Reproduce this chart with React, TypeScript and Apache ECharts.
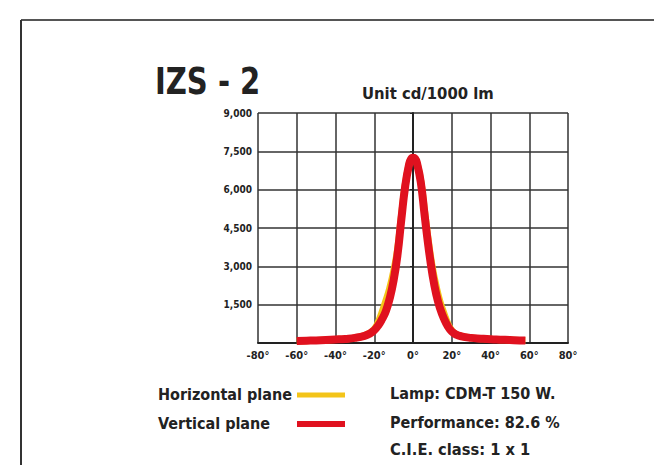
import React, { useEffect, useRef } from "react";
import * as echarts from "echarts";

const angles = [-60, -55, -50, -45, -40, -35, -30, -25, -22, -20, -18, -16, -14, -12, -10, -8, -6, -4, -2, -1, 0, 1, 2, 4, 6, 8, 10, 12, 14, 16, 18, 20, 22, 25, 30, 35, 40, 45, 50, 55, 58];
const verticalPlane = [80, 90, 100, 115, 135, 160, 200, 280, 380, 500, 680, 930, 1250, 1750, 2450, 3450, 4850, 6150, 7000, 7200, 7250, 7220, 7050, 6300, 5000, 3750, 2700, 1900, 1350, 950, 650, 450, 340, 260, 200, 170, 145, 130, 115, 100, 95];
const horizontalPlane = [80, 90, 100, 115, 135, 160, 200, 290, 400, 540, 800, 1200, 1650, 2150, 2800, 3650, 4950, 6200, 7000, 7200, 7250, 7220, 7050, 6350, 5150, 3950, 2950, 2200, 1600, 1150, 750, 490, 350, 265, 200, 170, 145, 130, 115, 100, 95];

const xTicks = [-80, -60, -40, -20, 0, 20, 40, 60, 80];
const yTicks = [0, 1500, 3000, 4500, 6000, 7500, 9000];

const title = "IZS - 2";
const unitText = "Unit cd/1000 lm";
const legendNames = ["Horizontal plane", "Vertical plane"];
const infoLines = ["Lamp: CDM-T 150 W.", "Performance: 82.6 %", "C.I.E. class: 1 x 1"];

const YELLOW = "#f3c419";
const RED = "#e0111f";
const FONT = "'Liberation Sans Narrow', 'DejaVu Sans Condensed', 'Liberation Sans', Arial, sans-serif";

export default function App() {
  const ref = useRef<HTMLDivElement>(null);
  useEffect(() => {
    document.body.style.margin = "0";
    const chart = echarts.init(ref.current!, null, { renderer: "svg" });
    const fmt = (v: number) => (v === 0 ? "" : v.toLocaleString("en-US"));
    const txt = (t: string, x: number, y: number, size: number, sx = 1) => ({
      type: "text",
      x,
      y,
      scaleX: sx,
      style: { text: t, font: `bold ${size}px ${FONT}`, fill: "#222", textVerticalAlign: "top" },
    });
    chart.setOption({
      animation: false,
      backgroundColor: "#ffffff",
      grid: { left: 258, right: 86, top: 113, bottom: 122 },
      xAxis: {
        type: "value",
        min: xTicks[0],
        max: xTicks[xTicks.length - 1],
        interval: 20,
        axisLine: { show: true, lineStyle: { color: "#222", width: 2 } },
        axisTick: { show: false },
        splitLine: { show: true, lineStyle: { color: "#333", width: 1.5 } },
        axisLabel: {
          formatter: (v: number) => `${v}°`,
          color: "#222",
          fontWeight: "bold",
          fontSize: 11,
          fontFamily: FONT,
          margin: 7,
        },
      },
      yAxis: {
        type: "value",
        min: yTicks[0],
        max: yTicks[yTicks.length - 1],
        interval: 1500,
        axisLine: { show: true, lineStyle: { color: "#222", width: 2 } },
        axisTick: { show: true, length: 3, lineStyle: { color: "#222" } },
        splitLine: { show: true, lineStyle: { color: "#333", width: 1.5 } },
        axisLabel: {
          formatter: fmt,
          color: "#222",
          fontWeight: "bold",
          fontSize: 10,
          fontFamily: FONT,
          margin: 6,
        },
      },
      series: [
        {
          name: legendNames[0],
          type: "line",
          smooth: true,
          symbol: "none",
          data: angles.map((a, i) => [a, horizontalPlane[i]]),
          lineStyle: { color: YELLOW, width: 7 },
          z: 2,
        },
        {
          name: legendNames[1],
          type: "line",
          smooth: true,
          symbol: "none",
          data: angles.map((a, i) => [a, verticalPlane[i]]),
          lineStyle: { color: RED, width: 8 },
          z: 3,
        },
      ],
      graphic: [
        { type: "line", shape: { x1: 21, y1: 20, x2: 654, y2: 20 }, style: { stroke: "#555", lineWidth: 2 } },
        { type: "line", shape: { x1: 21, y1: 20, x2: 21, y2: 465 }, style: { stroke: "#333", lineWidth: 2 } },
        txt(title, 155, 62, 38, 0.85),
        txt(unitText, 362, 86, 15, 1.1),
        txt(legendNames[0], 158, 386, 16),
        txt(legendNames[1], 158, 415, 16),
        { type: "line", shape: { x1: 297, y1: 395, x2: 345, y2: 395 }, style: { stroke: YELLOW, lineWidth: 5 } },
        { type: "line", shape: { x1: 297, y1: 424, x2: 345, y2: 424 }, style: { stroke: RED, lineWidth: 6 } },
        txt(infoLines[0], 390, 385, 16),
        txt(infoLines[1], 390, 414, 16),
        txt(infoLines[2], 390, 442, 16, 1.02),
      ],
    });
    return () => chart.dispose();
  }, []);
  return <div ref={ref} style={{ width: 654, height: 465 }} />;
}
